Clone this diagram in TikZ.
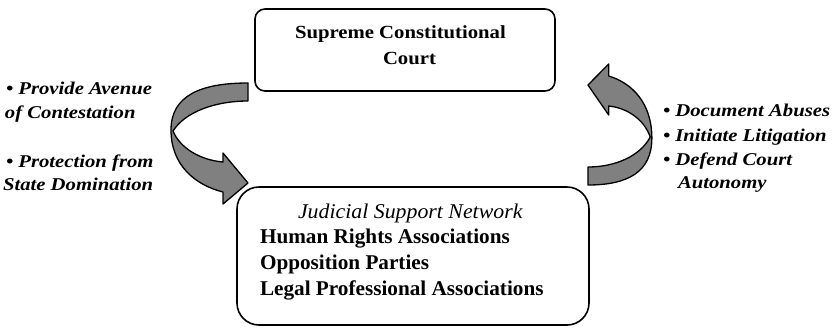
\documentclass[tikz,border=0pt]{standalone}
\usepackage{fontspec}
\setmainfont{Liberation Serif}
\usepackage{graphicx}
\definecolor{arrowgray}{RGB}{128,128,128}
\newcommand\topfont{\fontsize{18.5}{20}\selectfont\bfseries}
\newcommand\sidefont{\fontsize{18}{20}\selectfont\bfseries\itshape}
\newcommand\netfont{\fontsize{21}{24}\selectfont}
\newcommand\curvedarrowpath{(248,83) .. controls (200,83) and (171,96) .. (171,130)
  .. controls (171,165) and (195,185) .. (223,192) -- (223,204) -- (248,183)
  -- (223,153) -- (223,162) .. controls (200,160) and (180,148) .. (173,131)
  .. controls (185,112) and (215,101) .. (248,101) -- cycle}
\tikzset{
  box/.style={draw, line width=1.6pt, inner sep=0pt},
  fatarrow/.style={draw, fill=arrowgray, line width=1.3pt, line join=round},
  lbl/.style={anchor=base west, inner sep=0pt, outer sep=0pt},
}
\begin{document}
\begin{tikzpicture}[x=1pt,y=-1pt]
\useasboundingbox (0,0) rectangle (840,327);
% boxes
\node[box, rounded corners=10pt, minimum width=300pt, minimum height=82pt] (court) at (405,50) {};
\node[box, rounded corners=22pt, minimum width=352pt, minimum height=138pt] (network) at (413,256) {};
% top box text
\node[lbl] (ct1) at (295,38.5) {\topfont\scalebox{1.12}[1]{Supreme Constitutional}};
\node[lbl] (ct2) at (383,64.5) {\topfont\scalebox{1.12}[1]{Court}};
% bottom box text
\node[lbl] (nt1) at (298,218) {\netfont\itshape\scalebox{1.04}[1]{Judicial Support Network}};
\node[lbl] (nt2) at (260,243) {\netfont\bfseries\scalebox{1.01}[1]{Human Rights Associations}};
\node[lbl] (nt3) at (260,269) {\netfont\bfseries\scalebox{1.01}[1]{Opposition Parties}};
\node[lbl] (nt4) at (260,295.5) {\netfont\bfseries\scalebox{1.01}[1]{Legal Professional Associations}};
% left labels
\node[lbl] (l1) at (6,94) {\sidefont\scalebox{1.15}[1]{• Provide Avenue}};
\node[lbl] (l2) at (5,118) {\sidefont\scalebox{1.15}[1]{of Contestation}};
\node[lbl] (l3) at (6,167) {\sidefont\scalebox{1.15}[1]{• Protection from}};
\node[lbl] (l4) at (3,190) {\sidefont\scalebox{1.15}[1]{State Domination}};
% right labels
\node[lbl] (r1) at (663,116.7) {\sidefont\scalebox{1.15}[1]{• Document Abuses}};
\node[lbl] (r2) at (663,141.7) {\sidefont\scalebox{1.15}[1]{• Initiate Litigation}};
\node[lbl] (r3) at (663,165) {\sidefont\scalebox{1.15}[1]{• Defend Court}};
\node[lbl] (r4) at (678,188) {\sidefont\scalebox{1.15}[1]{Autonomy}};
% curved arrows
\path[fatarrow] \curvedarrowpath;
\begin{scope}[xshift=793.8pt, yshift=-268pt, xscale=-0.83, yscale=-1]
\path[fatarrow] \curvedarrowpath;
\end{scope}
\end{tikzpicture}
\end{document}
